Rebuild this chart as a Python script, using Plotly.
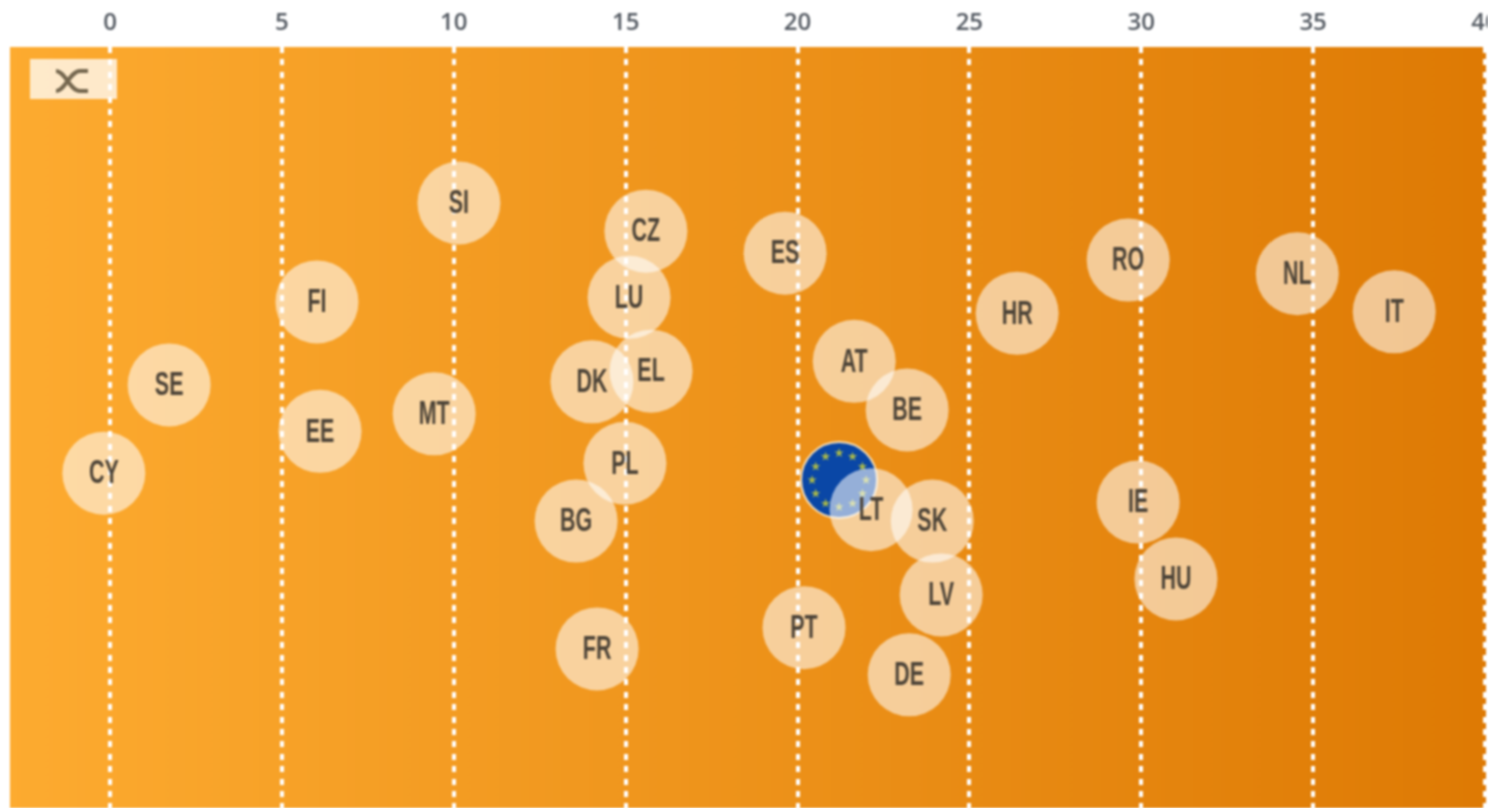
import math
import urllib.parse
import plotly.graph_objects as go

countries = ["SI","CZ","ES","RO","NL","LU","FI","HR","IT","AT","EL","DK","SE","BE","MT","EE","PL","CY","IE","LT","BG","SK","LV","HU","PT","FR","DE"]
values = [10.15,15.59,19.64,29.62,34.54,15.10,6.02,26.39,37.36,21.65,15.74,14.02,1.72,23.19,9.43,6.11,14.98,-0.18,29.91,22.14,13.56,23.92,24.18,31.01,20.19,14.17,23.25]
jitter = [79.5,75.8,72.9,72.0,70.2,67.1,66.5,65.0,65.2,58.7,57.4,56.0,55.6,52.3,51.8,49.5,45.3,44.0,40.2,39.2,37.7,37.7,28.0,30.1,23.7,20.9,17.5]
eu_value = [21.21]
eu_jitter = [43.1]
tick_values = [0,5,10,15,20,25,30,35,40]

W, H = 1488, 808
L, R, T, B = 10, 2, 47, 0
x_range = [-2.91, 40.03]
y_range = [0, 100]
pw, ph = W-L-R, H-T-B
sx = pw/(x_range[1]-x_range[0])
sy = ph/(y_range[1]-y_range[0])

svg = ('<svg xmlns="http://www.w3.org/2000/svg" width="1476" height="761">'
       '<defs><linearGradient id="g" x1="0" y1="0" x2="1" y2="0">'
       '<stop offset="0" stop-color="#FDAB30"/><stop offset="1" stop-color="#DE7A04"/>'
       '</linearGradient></defs><rect width="1476" height="761" fill="url(#g)"/></svg>')
bg_uri = "data:image/svg+xml;charset=utf-8," + urllib.parse.quote(svg)

fig = go.Figure()

# EU marker and ring of stars
fig.add_trace(go.Scatter(x=eu_value, y=eu_jitter, mode="markers", hoverinfo="skip",
    marker=dict(size=76, color="#0A47A6", line=dict(color="#F6DDB4", width=2))))
ring = 27
star_x = [eu_value[0] + ring*math.cos(i*math.pi/6)/sx for i in range(12)]
star_y = [eu_jitter[0] + ring*math.sin(i*math.pi/6)/sy for i in range(12)]
fig.add_trace(go.Scatter(x=star_x, y=star_y, mode="markers", hoverinfo="skip",
    marker=dict(size=7, symbol="star", color="#A9B84A")))

# country bubbles
fig.add_trace(go.Scatter(x=values, y=jitter, mode="markers", hoverinfo="skip",
    marker=dict(size=83, color="rgba(255,255,255,0.57)", line=dict(width=0))))
fig.add_trace(go.Scatter(x=values, y=jitter, mode="text", text=countries, hoverinfo="skip",
    textposition="middle center",
    textfont=dict(family="Liberation Sans", size=33, color="#4D4438", weight="bold")))

fig.update_layout(
    width=W, height=H, showlegend=False,
    margin=dict(l=L, r=R, t=T, b=B, autoexpand=False),
    paper_bgcolor="white", plot_bgcolor="rgba(0,0,0,0)",
    xaxis=dict(range=x_range, side="top", tickvals=tick_values, ticktext=[str(v) for v in tick_values],
               showgrid=True, gridcolor="white", gridwidth=4, griddash="6px,6.4px",
               zeroline=False, showline=False, ticks="", ticklabelposition="outside",
               ticklabeloverflow="allow", ticklabelstandoff=11,
               tickfont=dict(family="Open Sans", size=24, color="#555B63", weight=600)),
    yaxis=dict(range=y_range, visible=False, showgrid=False, zeroline=False),
    images=[dict(source=bg_uri, xref="paper", yref="paper", x=0, y=1, sizex=1, sizey=1,
                 xanchor="left", yanchor="top", sizing="stretch", layer="below")],
    shapes=[
        dict(type="rect", xref="paper", yref="paper",
             x0=(30-L)/pw, x1=(117-L)/pw, y0=(H-99)/ph, y1=(H-59)/ph,
             fillcolor="rgba(255,255,255,0.75)", line=dict(width=0), layer="above"),
        dict(type="path", xref="paper", yref="paper", xsizemode="pixel", ysizemode="pixel",
             xanchor=(72-L)/pw, yanchor=(H-81)/ph,
             path="M -16 -10 C -7 -10 -2 10 8 10 L 16 10 M -16 10 C -7 10 -2 -10 8 -10 L 16 -10",
             line=dict(color="#75674F", width=4), layer="above"),
    ],
)
post = """
document.body.style.margin='0';document.body.style.overflow='hidden';
document.querySelectorAll('.textpoint text').forEach(function(t){
  t.setAttribute('textLength', t.getComputedTextLength()*0.65);
  t.setAttribute('lengthAdjust','spacingAndGlyphs');
  t.setAttribute('y', parseFloat(t.getAttribute('y'))+2);
});
document.querySelector('.plot-container').style.filter='blur(0.8px)';
"""
fig.write_html("out.html", post_script=post, config={"displayModeBar": False})
